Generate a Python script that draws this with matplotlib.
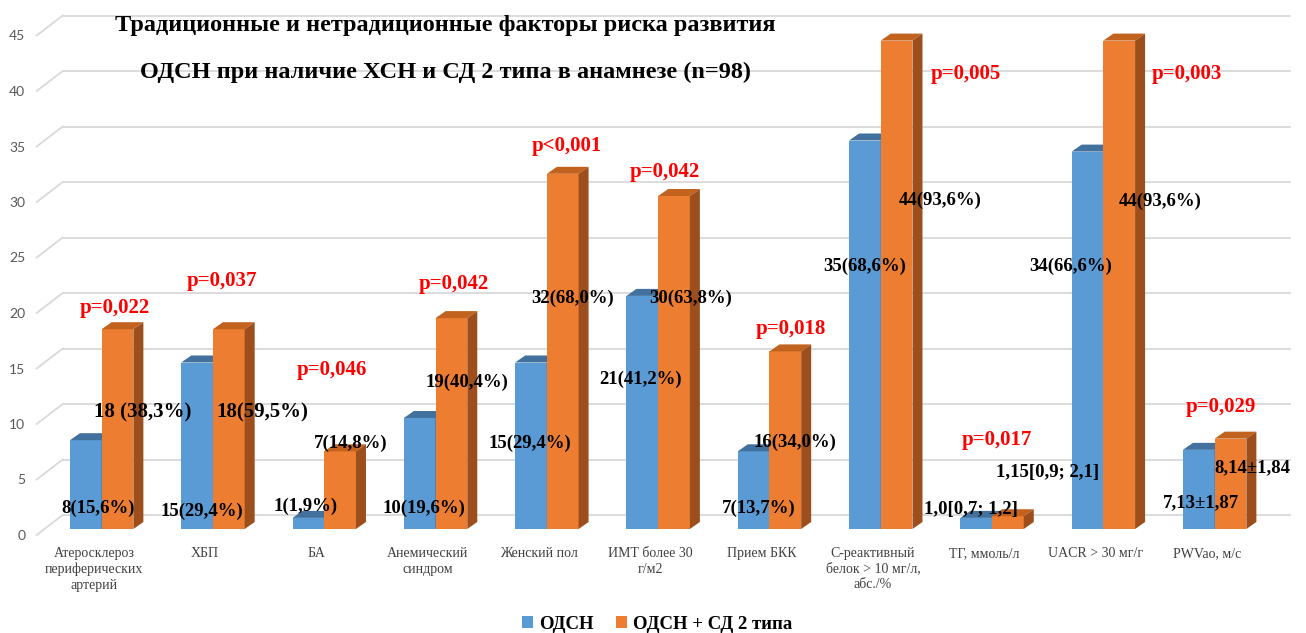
import matplotlib
matplotlib.use('Agg')
import matplotlib.pyplot as plt
from matplotlib.patches import Polygon, Patch
from matplotlib.transforms import ScaledTranslation
import numpy as np

plt.rc('font', family='Liberation Serif')

categories = ['Атеросклероз\nпериферических\nартерий', 'ХБП', 'БА',
              'Анемический\nсиндром', 'Женский пол', 'ИМТ более 30\nг/м2',
              'Прием БКК', 'С-реактивный\nбелок > 10 мг/л,\nабс./%',
              'ТГ, ммоль/л', 'UACR > 30 мг/г', 'PWVao, м/с']

odsn    = [8, 15, 1, 10, 15, 21, 7, 35, 1.0, 34, 7.13]
odsn_sd = [18, 18, 7, 19, 32, 30, 16, 44, 1.15, 44, 8.14]

odsn_lbl = ['8(15,6%)', '15(29,4%)', '1(1,9%)', '10(19,6%)', '15(29,4%)',
            '21(41,2%)', '7(13,7%)', '35(68,6%)', '1,0[0,7; 1,2]',
            '34(66,6%)', '7,13±1,87']
odsn_sd_lbl = ['18 (38,3%)', '18(59,5%)', '7(14,8%)', '19(40,4%)', '32(68,0%)',
               '30(63,8%)', '16(34,0%)', '44(93,6%)', '1,15[0,9; 2,1]',
               '44(93,6%)', '8,14±1,84']
p_values = ['p=0,022', 'p=0,037', 'p=0,046', 'p=0,042', 'p<0,001', 'p=0,042',
            'p=0,018', 'p=0,005', 'p=0,017', 'p=0,003', 'p=0,029']

# label placement (x offset from category, y in data units)
odsn_pos = [(-0.03, 1.9), (-0.10, 1.6), (-0.17, 2.0), (-0.10, 1.9), (-0.15, 7.7),
            (-0.16, 13.5), (-0.10, 1.9), (-0.14, 23.7), (-0.19, 1.8),
            (-0.29, 23.7), (-0.12, 2.4)]
odsn_sd_pos = [(0.37, 10.5), (0.44, 10.5), (0.24, 7.7), (0.28, 13.2), (0.23, 20.8),
               (0.29, 20.8), (0.23, 7.8), (0.53, 29.6), (0.50, 5.1),
               (0.51, 29.5), (0.34, 5.5)]
p_pos = [(0.12, 19.9), (0.08, 22.3), (0.07, 14.3), (0.16, 22.1), (0.18, 34.5),
         (0.06, 32.2), (0.19, 18.0), (0.76, 41.0), (0.04, 8.0), (0.75, 41.0),
         (0.06, 11.0)]

blue, blue_top = '#5B9BD5', '#41719C'
orange, orange_top, orange_side = '#ED7D31', '#C2621F', '#9C4F1C'

W, H = 1306, 633
fig = plt.figure(figsize=(W / 100, H / 100), dpi=100)

# axes box in pixels
L, R, B, T = 62.7, 1290.0, 529.0, 29.5
ax = fig.add_axes([L / W, (H - B) / H, (R - L) / W, (B - T) / H])
ppx = 111.3
ppy = (B - T) / 45
xlim = (-0.35, -0.35 + (R - L) / ppx)
ax.set_xlim(*xlim)
ax.set_ylim(0, 45)
for s in ax.spines.values():
    s.set_visible(False)

# back wall gridlines and side wall diagonals
back = ax.transData + ScaledTranslation(0, 14 / 100, fig.dpi_scale_trans)
for v in range(0, 50, 5):
    ax.plot(xlim, [v, v], color='#D9D9D9', lw=1.3, transform=back, clip_on=False, zorder=0)
    ax.plot([xlim[0] - 26 / ppx, xlim[0]], [v - 6 / ppy, v + 14 / ppy],
            color='#D9D9D9', lw=1.3, clip_on=False, zorder=0)

ax.set_yticks(range(0, 50, 5))
ax.tick_params(axis='y', length=0, pad=27, labelsize=10, labelcolor='#595959')
for lab in ax.get_yticklabels():
    lab.set_family('Lato')
    lab.set_transform(lab.get_transform() + ScaledTranslation(0, -6 / 100, fig.dpi_scale_trans))

x = np.arange(len(categories))
ax.set_xticks(x - 0.07)
ax.set_xticklabels(categories, fontsize=10, color='#404040', linespacing=1.25)
ax.tick_params(axis='x', length=0, pad=13)

bw = 0.285
dx, dy = 10 / ppx, 7 / ppy


def bar3d(x0, h, front, top, side, z):
    x1 = x0 + bw
    ax.add_patch(Polygon([(x0, 0), (x1, 0), (x1, h), (x0, h)], closed=True,
                         facecolor=front, edgecolor='none', zorder=z))
    ax.add_patch(Polygon([(x0, h), (x1, h), (x1 + dx, h + dy), (x0 + dx, h + dy)],
                         closed=True, facecolor=top, edgecolor='none', zorder=z))
    ax.add_patch(Polygon([(x1, 0), (x1 + dx, dy), (x1 + dx, h + dy), (x1, h)],
                         closed=True, facecolor=side, edgecolor='none', zorder=z))


for i in x:
    bar3d(i - bw, odsn[i], blue, blue_top, '#3A6691', 2)
    bar3d(i, odsn_sd[i], orange, orange_top, orange_side, 3)

for i in x:
    fs = 15 if i < 2 else 13.5
    ax.text(i + odsn_pos[i][0], odsn_pos[i][1], odsn_lbl[i], ha='center', va='center',
            fontsize=13.5, fontweight='bold', color='black', zorder=5)
    ax.text(i + odsn_sd_pos[i][0], odsn_sd_pos[i][1], odsn_sd_lbl[i], ha='center',
            va='center', fontsize=fs, fontweight='bold', color='black', zorder=5)
    ax.text(i + p_pos[i][0], p_pos[i][1], p_values[i], ha='center', va='center',
            fontsize=15, fontweight='bold', color='red', zorder=5)

fig.text(445 / W, 1 - 25 / H, 'Традиционные и нетрадиционные факторы риска развития',
         ha='center', va='center', fontsize=17.5, fontweight='bold')
fig.text(445 / W, 1 - 72 / H, 'ОДСН при наличие ХСН и СД 2 типа в анамнезе (n=98)',
         ha='center', va='center', fontsize=17.5, fontweight='bold')

handles = [Patch(facecolor=blue), Patch(facecolor=orange)]
fig.legend(handles, ['ОДСН', 'ОДСН + СД 2 типа'], loc='lower center',
           bbox_to_anchor=(0.503, -0.026), ncol=2, frameon=False,
           prop={'family': 'Liberation Serif', 'weight': 'bold', 'size': 13.5},
           handlelength=0.6, handleheight=0.6, handletextpad=0.3, columnspacing=1.2)

fig.savefig('out.png', dpi=100)
